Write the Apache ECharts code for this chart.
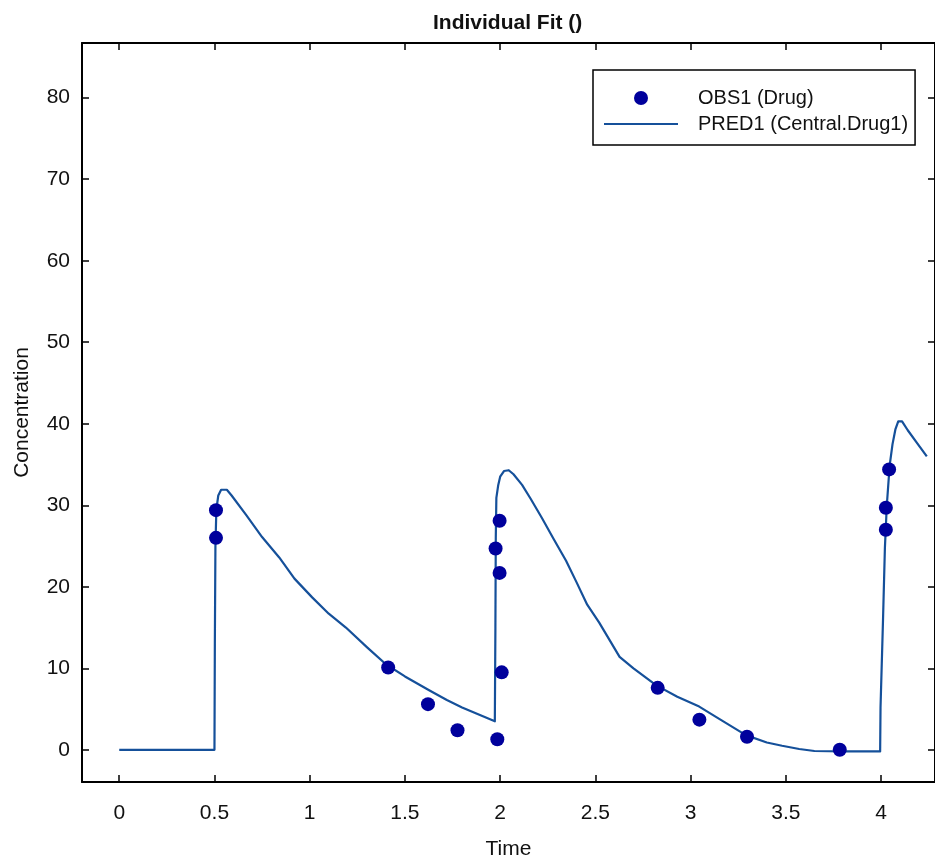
<!DOCTYPE html>
<html>
<head>
<meta charset="utf-8">
<script src="https://cdn.jsdelivr.net/npm/echarts@6/dist/echarts.min.js"></script>
<style>
html,body{margin:0;padding:0;background:#fff;}
#chart{width:935px;height:865px;}
</style>
</head>
<body>
<div id="chart"></div>
<script>
// ---- data ----
const chartTitle = 'Individual Fit ()';
const xName = 'Time';
const yName = 'Concentration';
const obsName = 'OBS1 (Drug)';
const predName = 'PRED1 (Central.Drug1)';

const xTicks = [0, 0.5, 1, 1.5, 2, 2.5, 3, 3.5, 4];
const xTickLabels = ['0', '0.5', '1', '1.5', '2', '2.5', '3', '3.5', '4'];
const yTicks = [0, 10, 20, 30, 40, 50, 60, 70, 80];
const yTickLabels = ['0', '10', '20', '30', '40', '50', '60', '70', '80'];

// observed points
const obsTime = [0.508, 0.508, 1.412, 1.621, 1.776, 1.985, 1.976, 1.997, 1.997, 2.008, 2.827, 3.046, 3.296, 3.783, 4.025, 4.025, 4.042];
const obsConc = [29.4, 26.0, 10.1, 5.6, 2.4, 1.3, 24.7, 28.1, 21.7, 9.5, 7.6, 3.7, 1.6, 0.0, 27.0, 29.7, 34.4];

// predicted curve
const predTime = [0, 0.5, 0.502, 0.505, 0.51, 0.52, 0.535, 0.565, 0.59, 0.667, 0.75, 0.84, 0.92, 1.013, 1.1, 1.19, 1.3, 1.40, 1.5, 1.627, 1.72, 1.80, 1.9, 1.972,
  1.974, 1.975, 1.977, 1.98, 1.99, 2.0, 2.02, 2.045, 2.07, 2.115, 2.16, 2.22, 2.28, 2.346, 2.40, 2.457, 2.52, 2.627, 2.70, 2.82, 2.93, 3.045, 3.15, 3.29, 3.40, 3.48, 3.57, 3.65, 3.80, 3.995,
  3.997, 4.01, 4.02, 4.03, 4.045, 4.06, 4.075, 4.09, 4.11, 4.14, 4.19, 4.24];
const predConc = [0, 0, 13, 25, 29.5, 31.2, 31.9, 31.9, 31.2, 28.8, 26.1, 23.6, 21.0, 18.7, 16.7, 15.0, 12.6, 10.5, 9.0, 7.3, 6.1, 5.2, 4.2, 3.5,
  3.4, 15, 26, 30.9, 32.5, 33.5, 34.2, 34.3, 33.8, 32.5, 30.8, 28.4, 25.9, 23.2, 20.6, 17.8, 15.6, 11.4, 10.0, 7.9, 6.5, 5.3, 3.8, 1.8, 0.9, 0.5, 0.1, -0.15, -0.2, -0.2,
  5.2, 15.9, 24.8, 30.0, 34.9, 37.5, 39.3, 40.3, 40.3, 39.2, 37.6, 36.0];

// axis extents
const xMin = -0.1955, xMax = 4.283;
const yMin = -3.95, yMax = 86.71;

// ---- chart ----
const FONT = 'Liberation Sans, Arial, sans-serif';
const lineColor = '#15509a';
const dotColor = '#00009c';

const obsData = obsTime.map((t, i) => [t, obsConc[i]]);
const predData = predTime.map((t, i) => [t, predConc[i]]);

const axisLineStyle = { color: '#000', width: 2 };
const tickStyle = { color: '#000', width: 1.5 };

const chart = echarts.init(document.getElementById('chart'), null, { renderer: 'canvas' });
chart.setOption({
  backgroundColor: '#fff',
  animation: false,
  textStyle: { fontFamily: FONT },
  title: {
    text: chartTitle,
    left: 433,
    top: 11,
    padding: 0,
    textStyle: { fontSize: 21, fontWeight: 'bold', color: '#111', fontFamily: FONT, lineHeight: 24 }
  },
  legend: {
    orient: 'vertical',
    left: 593,
    top: 70,
    padding: [15, 7, 8, 10],
    itemGap: 0,
    itemWidth: 74,
    itemHeight: 14,
    borderColor: '#000',
    borderWidth: 1.5,
    backgroundColor: '#fff',
    textStyle: { fontSize: 20, lineHeight: 26, color: '#111', fontFamily: FONT, padding: [0, 0, 0, 15] },
    data: [
      { name: obsName, icon: 'circle' },
      { name: predName, itemStyle: { color: 'rgba(0,0,0,0)', borderWidth: 0, opacity: 0 } }
    ]
  },
  grid: { left: 82, top: 43, width: 854, height: 743, containLabel: false },
  xAxis: [
    {
      type: 'value', position: 'bottom', min: xMin, max: xMax,
      name: xName, nameLocation: 'middle', nameGap: 57,
      nameTextStyle: { fontSize: 21, color: '#111', fontFamily: FONT },
      axisLine: { show: true, onZero: false, lineStyle: axisLineStyle },
      axisTick: { show: true, inside: true, length: 7, customValues: xTicks, lineStyle: tickStyle },
      axisLabel: {
        show: true, customValues: xTicks, margin: 21, fontSize: 21, color: '#111', fontFamily: FONT,
        formatter: v => { const i = xTicks.findIndex(t => Math.abs(t - v) < 1e-9); return i >= 0 ? xTickLabels[i] : ''; }
      },
      splitLine: { show: false }
    },
    {
      type: 'value', position: 'top', min: xMin, max: xMax,
      axisLine: { show: true, onZero: false, lineStyle: axisLineStyle },
      axisTick: { show: true, inside: true, length: 7, customValues: xTicks, lineStyle: tickStyle },
      axisLabel: { show: false },
      splitLine: { show: false }
    }
  ],
  yAxis: [
    {
      type: 'value', position: 'left', min: yMin, max: yMax,
      name: yName, nameLocation: 'middle', nameGap: 49,
      nameTextStyle: { fontSize: 21, color: '#111', fontFamily: FONT },
      axisLine: { show: true, onZero: false, lineStyle: axisLineStyle },
      axisTick: { show: true, inside: true, length: 7, customValues: yTicks, lineStyle: tickStyle },
      axisLabel: {
        show: true, customValues: yTicks, margin: 12, fontSize: 21, color: '#111', fontFamily: FONT,
        formatter: v => { const i = yTicks.findIndex(t => Math.abs(t - v) < 1e-9); return i >= 0 ? yTickLabels[i] : ''; }
      },
      splitLine: { show: false }
    },
    {
      type: 'value', position: 'right', min: yMin, max: yMax,
      axisLine: { show: true, onZero: false, lineStyle: axisLineStyle },
      axisTick: { show: true, inside: true, length: 7, customValues: yTicks, lineStyle: tickStyle },
      axisLabel: { show: false },
      splitLine: { show: false }
    }
  ],
  series: [
    {
      name: predName, type: 'line', xAxisIndex: 0, yAxisIndex: 0,
      data: predData, showSymbol: false, symbol: 'none',
      lineStyle: { color: lineColor, width: 2.2, join: 'round' }, itemStyle: { color: lineColor },
      z: 2
    },
    {
      name: obsName, type: 'scatter', xAxisIndex: 0, yAxisIndex: 0,
      data: obsData, symbol: 'circle', symbolSize: 14,
      itemStyle: { color: dotColor, opacity: 1 },
      z: 3
    }
  ]
});
</script>
</body>
</html>
